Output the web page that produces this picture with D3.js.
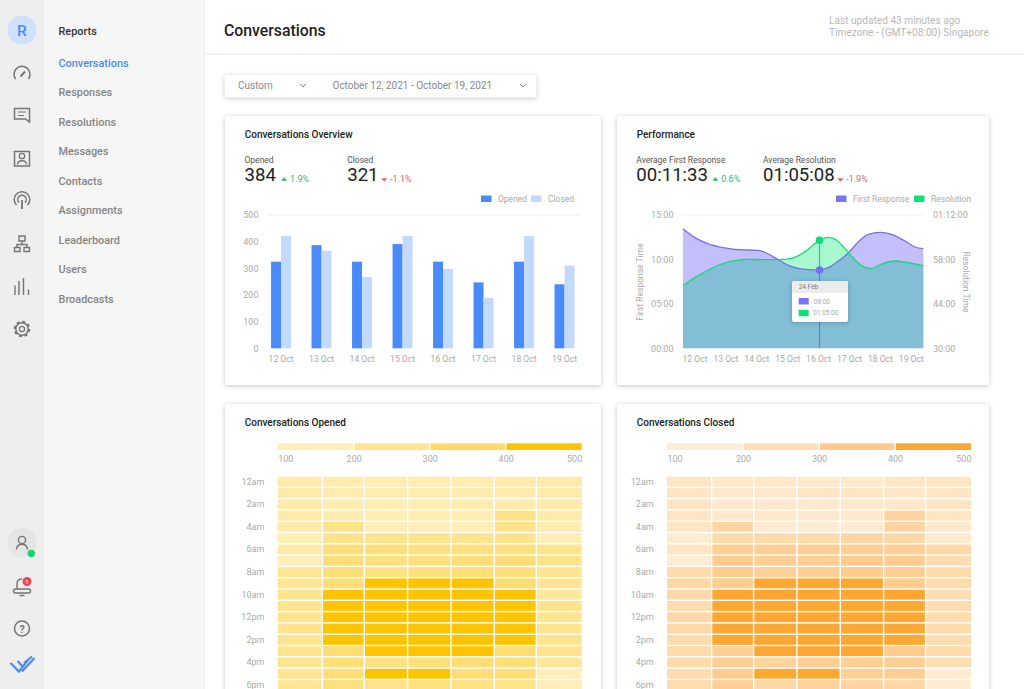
<!DOCTYPE html>
<html>
<head>
<meta charset="utf-8">
<script src="https://d3js.org/d3.v7.min.js"></script>
<style>
  html, body { margin: 0; padding: 0; background: #fff; overflow: hidden; }
  svg { display: block; font-family: Roboto, sans-serif; }
  .card { fill: #fff; filter: drop-shadow(0 1px 2.5px rgba(0,0,0,.22)); }
  .axis text { fill: #aaa; font-size: 9px; font-family: Roboto, sans-serif; }
  .axis.days text { font-size: 8.6px; }
  .axis path, .axis line { display: none; }
</style>
</head>
<body>
<svg id="page" width="1024" height="689"></svg>
<script>
var navItems = ["Conversations", "Responses", "Resolutions", "Messages", "Contacts", "Assignments", "Leaderboard", "Users", "Broadcasts"];

var days = ["12 Oct", "13 Oct", "14 Oct", "15 Oct", "16 Oct", "17 Oct", "18 Oct", "19 Oct"];
var barSeries = ["Opened", "Closed"];
var openedByDay = [325, 387, 325, 391, 325, 247, 325, 240];
var closedByDay = [421, 366, 267, 421, 297, 189, 421, 310];
var barTicks = [0, 100, 200, 300, 400, 500];

// day of october, first response in minutes
var firstDays = [11.61, 12, 12.43, 12.86, 13.29, 13.73, 14.05, 14.37, 14.7, 15.02, 15.34, 15.67, 16.03, 16.31, 16.64, 16.96, 17.29, 17.61, 17.99, 18.36, 18.8, 19.12, 19.39];
var firstResponse = [13.46, 12.45, 11.74, 11.36, 11.14, 11.06, 11.03, 10.61, 9.97, 9.34, 9, 8.85, 8.81, 9.07, 9.82, 10.72, 12, 12.82, 13.05, 12.82, 12.07, 11.4, 11.21];
// day of october, resolution in minutes
var resolutionDays = [11.61, 12, 12.43, 12.86, 13.29, 13.73, 14.27, 14.7, 15.13, 15.56, 16.03, 16.31, 16.58, 16.85, 17.18, 17.5, 17.72, 18.04, 18.47, 18.9, 19.39];
var resolution = [49.74, 52.26, 54.67, 56.56, 57.61, 58.04, 57.93, 57.93, 58.35, 60.45, 64.02, 64.96, 64.12, 61.5, 57.82, 55.51, 55.2, 56.56, 57.51, 56.98, 56.04];
var firstTicks = [0, 5, 10, 15];
var resolutionTicks = [30, 44, 58, 72];
var markerDay = 16.03;
var markerFirst = 8.81;
var markerResolution = 64.02;

var hours = ["12am", "1am", "2am", "3am", "4am", "5am", "6am", "7am", "8am", "9am", "10am", "11am", "12pm", "1pm", "2pm", "3pm", "4pm", "5pm", "6pm"];
var weekdays = ["d1", "d2", "d3", "d4", "d5", "d6", "d7"];
var scaleTicks = [100, 200, 300, 400, 500];

var openedGrid = [
  [170, 160, 150, 150, 150, 170, 170],
  [170, 150, 150, 150, 150, 160, 170],
  [170, 150, 140, 140, 150, 160, 170],
  [170, 150, 140, 140, 140, 270, 170],
  [170, 260, 130, 120, 130, 260, 150],
  [130, 240, 240, 240, 240, 240, 130],
  [170, 300, 300, 290, 290, 290, 250],
  [120, 310, 290, 290, 310, 310, 260],
  [230, 310, 280, 290, 310, 300, 240],
  [230, 310, 450, 450, 450, 320, 230],
  [240, 450, 450, 450, 450, 450, 210],
  [240, 450, 450, 450, 450, 450, 250],
  [250, 450, 450, 450, 450, 450, 240],
  [250, 450, 450, 450, 450, 450, 240],
  [240, 450, 450, 450, 450, 450, 240],
  [240, 320, 450, 450, 450, 320, 240],
  [240, 310, 280, 300, 310, 310, 220],
  [230, 310, 450, 450, 310, 310, 130],
  [230, 290, 250, 280, 270, 260, 130]
];
var closedGrid = [
  [170, 160, 160, 150, 150, 170, 170],
  [170, 150, 150, 170, 170, 160, 170],
  [170, 150, 140, 140, 150, 160, 170],
  [170, 150, 140, 140, 140, 270, 170],
  [170, 270, 130, 120, 130, 270, 150],
  [130, 240, 240, 240, 260, 250, 130],
  [170, 310, 300, 300, 300, 300, 250],
  [120, 320, 300, 300, 320, 320, 230],
  [240, 320, 290, 300, 320, 300, 240],
  [250, 320, 450, 450, 450, 320, 240],
  [250, 450, 450, 450, 450, 450, 220],
  [230, 450, 450, 450, 450, 450, 230],
  [250, 450, 450, 450, 450, 450, 230],
  [250, 450, 450, 450, 450, 450, 240],
  [240, 450, 450, 450, 450, 450, 230],
  [240, 300, 450, 450, 450, 320, 240],
  [240, 310, 280, 300, 310, 310, 220],
  [230, 320, 450, 450, 300, 310, 130],
  [230, 300, 250, 280, 270, 260, 120]
];
var yellowShades = ["#fff0bf", "#ffe89f", "#ffdf7a", "#ffd75f", "#ffc400", "#ffc400"];
var orangeShades = ["#feefdc", "#ffe1ba", "#ffcf95", "#ffc27a", "#ffa733", "#ffa733"];
var yellowLegend = ["#ffeeb8", "#ffe38f", "#ffd966", "#ffc400"];
var orangeLegend = ["#fdecd6", "#ffddb2", "#ffc98b", "#ffa733"];

var svg = d3.select("#page");
var iconColor = "#757575";

function label(parent, x, y, str, size, color, weight, anchor) {
  return parent.append("text")
    .attr("x", x).attr("y", y)
    .attr("dominant-baseline", "central")
    .attr("text-anchor", anchor || "start")
    .attr("font-size", size)
    .attr("font-weight", weight || 400)
    .attr("fill", color)
    .text(str);
}

function card(x, y, w, h) {
  svg.append("rect").attr("class", "card")
    .attr("x", x).attr("y", y).attr("width", w).attr("height", h).attr("rx", 2);
}

function trend(x, y, up, str) {
  var color = up ? "#2fb57f" : "#e8606a";
  svg.append("path")
    .attr("d", d3.symbol().type(d3.symbolTriangle).size(11))
    .attr("transform", "translate(" + (x + 2.7) + "," + y + ") scale(1.2,0.8) rotate(" + (up ? 0 : 180) + ")")
    .attr("fill", color);
  label(svg, x + 8.5, y - 0.5, str, 9, color);
}

function stat(x, title, value) {
  label(svg, x, 159.5, title, 8.5, "#555");
  label(svg, x, 175.3, value, 18.6, "#222");
}

function legendKey(x, color, str) {
  svg.append("rect").attr("x", x).attr("y", 195.5).attr("width", 10.5).attr("height", 6.5).attr("fill", color);
  label(svg, x + 17, 199, str, 8.5, "#aaa");
}

function drawShell() {
  svg.append("rect").attr("x", 0).attr("y", 0).attr("width", 44).attr("height", 689).attr("fill", "#eeeeee");
  svg.append("rect").attr("x", 44).attr("y", 0).attr("width", 160).attr("height", 689).attr("fill", "#f6f6f6");
  svg.append("rect").attr("x", 204).attr("y", 0).attr("width", 1).attr("height", 689).attr("fill", "#ececec");
  svg.append("rect").attr("x", 205).attr("y", 53.5).attr("width", 819).attr("height", 1).attr("fill", "#e6e6e6");

  label(svg, 58.5, 31.5, "Reports", 10.9, "#333", 500);
  var navY = d3.scalePoint().domain(navItems).range([63, 299]);
  navItems.forEach(function(d, i) {
    label(svg, 58.5, navY(d), d, 10.9, i === 0 ? "#4a8bf5" : "#858585", 500);
  });

  label(svg, 224, 30.5, "Conversations", 15.8, "#222", 500);
  label(svg, 829, 20, "Last updated 43 minutes ago", 10.15, "#b8b8b8");
  label(svg, 829, 32.5, "Timezone - (GMT+08:00) Singapore", 10.15, "#b8b8b8");

  card(224.5, 74.5, 312, 23);
  label(svg, 238, 85, "Custom", 10, "#8a8a8a");
  label(svg, 332.5, 85, "October 12, 2021 - October 19, 2021", 10, "#8a8a8a");
  [303, 523].forEach(function(x) {
    svg.append("path").attr("d", "M" + (x - 3) + " 84 l3 3 l3 -3")
      .attr("fill", "none").attr("stroke", "#888").attr("stroke-width", 1);
  });
}

function icon(d, width) {
  return svg.append("path").attr("d", d).attr("fill", "none")
    .attr("stroke", iconColor).attr("stroke-width", width || 1.5);
}

function drawRail() {
  svg.append("circle").attr("cx", 22).attr("cy", 30).attr("r", 14.5).attr("fill", "#cfe1fd");
  label(svg, 22, 30.5, "R", 15.5, "#4a8bf5", 500, "middle");

  icon("M15.5 79 A8 8 0 1 1 28.5 79");
  icon("M20.5 76.5 L25 71.5", 2);

  icon("M14.5 108.5 H29.5 V122 L25.5 119 H14.5 Z");
  icon("M18 112 H26 M18 115.5 H24", 1.2);

  icon("M14.5 151.5 H29.5 V166 H14.5 Z");
  svg.append("circle").attr("cx", 22).attr("cy", 156).attr("r", 2.7)
    .attr("fill", "none").attr("stroke", iconColor).attr("stroke-width", 1.3);
  icon("M17.5 164.5 C18 159.5 26 159.5 26.5 164.5", 1.3);

  icon("M16.5 205 A7.8 7.8 0 1 1 27.5 205");
  icon("M19 202.5 A4.2 4.2 0 1 1 25 202.5");
  icon("M22 200 V209", 1.8);

  icon("M19 236 H25 V241 H19 Z M14.5 247.5 H20 V251.5 H14.5 Z M24 247.5 H29.5 V251.5 H24 Z M22 241 V244.5 M17 247.5 V244.5 H27 V247.5", 1.4);

  icon("M15 295 V285.5 M19 295 V281 M23.5 295 V278 M28.5 295 V289.5", 1.4);

  svg.append("circle").attr("cx", 22).attr("cy", 329).attr("r", 6.2)
    .attr("fill", "none").attr("stroke", iconColor).attr("stroke-width", 1.4);
  svg.append("circle").attr("cx", 22).attr("cy", 329).attr("r", 7.3)
    .attr("fill", "none").attr("stroke", iconColor).attr("stroke-width", 2)
    .attr("stroke-dasharray", "3 2.73");
  svg.append("circle").attr("cx", 22).attr("cy", 329).attr("r", 2.6)
    .attr("fill", "none").attr("stroke", iconColor).attr("stroke-width", 1.3);

  svg.append("circle").attr("cx", 22).attr("cy", 542.5).attr("r", 14.5).attr("fill", "#e5e5e5");
  svg.append("circle").attr("cx", 22).attr("cy", 540).attr("r", 3.6)
    .attr("fill", "none").attr("stroke", iconColor).attr("stroke-width", 1.4);
  icon("M16.5 549.5 C17 542.5 27 542.5 27.5 549.5", 1.4);
  svg.append("circle").attr("cx", 31.3).attr("cy", 553.5).attr("r", 3.7).attr("fill", "#12d96f");

  icon("M17 589 V584 C17 581 19 579 22 579 M15.5 589 H28.5 A1.8 1.8 0 0 1 28.5 593 H15.5 A1.8 1.8 0 0 1 15.5 589 Z", 1.4);
  icon("M19.5 595.5 H24.5", 1.5);
  svg.append("circle").attr("cx", 27).attr("cy", 581.5).attr("r", 4.5).attr("fill", "#f4444f");
  label(svg, 27, 581.5, "1", 6, "#fff", 500, "middle");

  svg.append("circle").attr("cx", 22).attr("cy", 628.5).attr("r", 7.5)
    .attr("fill", "none").attr("stroke", iconColor).attr("stroke-width", 1.5);
  label(svg, 22, 629, "?", 10.5, iconColor, 700, "middle");

  svg.append("path").attr("d", "M10.5 663 L19 671.5 L28 660 M17.5 661 L22.5 666.5 M22 671.5 L34.5 658 M24 663 L32 656.5")
    .attr("fill", "none").attr("stroke", "#4a8bf5").attr("stroke-width", 2.2);
}

function drawBars() {
  card(225, 116, 376, 269);
  label(svg, 244.7, 134.5, "Conversations Overview", 10, "#222", 500);
  stat(244.5, "Opened", "384");
  stat(347.2, "Closed", "321");
  trend(281.5, 179.5, true, "1.9%");
  trend(381.5, 179.5, false, "-1.1%");
  legendKey(481, "#4a8bfc", "Opened");
  legendKey(531, "#c3d9fd", "Closed");

  var x = d3.scaleBand().domain(days).range([260.8, 584.8]);
  var inner = d3.scaleBand().domain(barSeries).range([x.bandwidth() / 2 - 10, x.bandwidth() / 2 + 10]);
  var y = d3.scaleLinear().domain([0, 500]).range([348.3, 215]);

  svg.append("line").attr("x1", 267.7).attr("x2", 581)
    .attr("y1", y(500)).attr("y2", y(500)).attr("stroke", "#f0f0f0");

  var colors = { Opened: "#4a8bfc", Closed: "#c3d9fd" };
  var values = { Opened: openedByDay, Closed: closedByDay };
  barSeries.forEach(function(name) {
    svg.append("g").selectAll("rect").data(values[name]).join("rect")
      .attr("x", function(d, i) { return x(days[i]) + inner(name); })
      .attr("width", inner.bandwidth())
      .attr("y", function(d) { return y(d); })
      .attr("height", function(d) { return y(0) - y(d); })
      .attr("fill", colors[name]);
  });

  svg.append("g").attr("class", "axis").attr("transform", "translate(258.5,0)")
    .call(d3.axisLeft(y).tickValues(barTicks).tickSize(0).tickPadding(0));
  svg.append("g").attr("class", "axis days").attr("transform", "translate(0,355.8)")
    .call(d3.axisBottom(x).tickSize(0).tickPadding(0));
}

function clock(m) {
  var pad = d3.format("02d");
  if (m >= 60) return "01:" + pad(m - 60) + ":00";
  return pad(m) + ":00";
}

function drawPerformance() {
  card(617, 116, 372, 269);
  label(svg, 636.7, 134.5, "Performance", 10, "#222", 500);
  stat(636.3, "Average First Response", "00:11:33");
  stat(763, "Average Resolution", "01:05:08");
  trend(712.7, 179.5, true, "0.6%");
  trend(837.7, 179.5, false, "-1.9%");
  legendKey(836, "#7a75f7", "First Response");
  legendKey(914, "#0fdf78", "Resolution");

  var band = d3.scaleBand().domain(days).range([679.55, 926.75]);
  var x = d3.scaleLinear().domain([12, 19]).range([695, 911.3]);
  var yFirst = d3.scaleLinear().domain([0, 15]).range([348.3, 215]);
  var yRes = d3.scaleLinear().domain([30, 72]).range([348.3, 215]);
  var first = firstDays.map(function(d, i) { return [d, firstResponse[i]]; });
  var res = resolutionDays.map(function(d, i) { return [d, resolution[i]]; });

  function areaOf(scale) {
    return d3.area().x(function(d) { return x(d[0]); })
      .y0(348.3).y1(function(d) { return scale(d[1]); }).curve(d3.curveMonotoneX);
  }
  function lineOf(scale) {
    return d3.line().x(function(d) { return x(d[0]); })
      .y(function(d) { return scale(d[1]); }).curve(d3.curveMonotoneX);
  }

  svg.append("line").attr("x1", 682).attr("x2", 923)
    .attr("y1", 215).attr("y2", 215).attr("stroke", "#f0f0f0");

  svg.append("clipPath").attr("id", "firstClip").append("path").attr("d", areaOf(yFirst)(first));
  svg.append("path").attr("d", areaOf(yFirst)(first)).attr("fill", "#c3bffb");
  svg.append("path").attr("d", areaOf(yRes)(res)).attr("fill", "#a9f9d0");
  svg.append("path").attr("d", areaOf(yRes)(res)).attr("fill", "#83bdd6").attr("clip-path", "url(#firstClip)");
  svg.append("path").attr("d", lineOf(yFirst)(first)).attr("fill", "none").attr("stroke", "#7570f0").attr("stroke-width", 1.3);
  svg.append("path").attr("d", lineOf(yRes)(res)).attr("fill", "none").attr("stroke", "#0fdc78").attr("stroke-width", 1.3);

  svg.append("line").attr("x1", x(markerDay)).attr("x2", x(markerDay))
    .attr("y1", yRes(markerResolution)).attr("y2", yFirst(markerFirst))
    .attr("stroke", "#0fdc78").attr("stroke-width", 1.2);
  svg.append("line").attr("x1", x(markerDay)).attr("x2", x(markerDay))
    .attr("y1", yFirst(markerFirst)).attr("y2", 348.3)
    .attr("stroke", "#7570f0").attr("stroke-width", 1.2);
  svg.append("circle").attr("cx", x(markerDay)).attr("cy", yRes(markerResolution)).attr("r", 3.8).attr("fill", "#0fdc78");
  svg.append("circle").attr("cx", x(markerDay)).attr("cy", yFirst(markerFirst)).attr("r", 3.8).attr("fill", "#7570f0");

  // tooltip
  var tip = svg.append("g");
  tip.append("rect").attr("x", 792).attr("y", 281).attr("width", 56).attr("height", 41).attr("rx", 2)
    .attr("fill", "#fff").style("filter", "drop-shadow(0 1px 2px rgba(0,0,0,.2))");
  tip.append("path").attr("d", "M792 293 V283 a2 2 0 0 1 2 -2 H846 a2 2 0 0 1 2 2 V293 Z").attr("fill", "#ececec");
  label(tip, 798.7, 287.3, "24 Feb", 6.5, "#777");
  tip.append("rect").attr("x", 798.7).attr("y", 298).attr("width", 10).attr("height", 6.5).attr("fill", "#7a75f7");
  tip.append("rect").attr("x", 798.7).attr("y", 309.8).attr("width", 10).attr("height", 6.5).attr("fill", "#0fdf78");
  label(tip, 813.8, 301.5, "08:00", 6.5, "#aaa");
  label(tip, 813.3, 313, "01:05:00", 6.5, "#aaa");

  svg.append("g").attr("class", "axis").attr("transform", "translate(673.5,0)")
    .call(d3.axisLeft(yFirst).tickValues(firstTicks).tickFormat(clock).tickSize(0).tickPadding(0));
  svg.append("g").attr("class", "axis").attr("transform", "translate(933,0)")
    .call(d3.axisRight(yRes).tickValues(resolutionTicks).tickFormat(clock).tickSize(0).tickPadding(0));
  svg.append("g").attr("class", "axis days").attr("transform", "translate(0,355.8)")
    .call(d3.axisBottom(band).tickSize(0).tickPadding(0));

  label(svg, 0, 0, "First Response Time", 8.5, "#aaa", 400, "middle")
    .attr("transform", "translate(640,282) rotate(-90)");
  label(svg, 0, 0, "Resolution Time", 8.5, "#aaa", 400, "middle")
    .attr("transform", "translate(966,282) rotate(90)");
}

function drawHeat(cardX, cardW, title, titleX, left, right, grid, shades, legendColors) {
  card(cardX, 404, cardW, 300);
  label(svg, titleX, 422.3, title, 10, "#222", 500);

  var scaleX = d3.scaleLinear().domain([100, 500]).range([left, right]);
  // columns are not quite even in the original, first and last run wider
  var colEdges = [0, 45.3, 87.3, 130.6, 174, 217.3, 259.3, 304];
  var x = d3.scaleOrdinal().domain(weekdays).range(colEdges.slice(0, 7).map(function(d) { return left + d; }));
  var y = d3.scaleBand().domain(hours).range([476.7, 476.7 + 11.3 * hours.length]);
  var color = d3.scaleLinear().domain([100, 200, 300, 399, 400, 500]).range(shades);

  scaleTicks.slice(0, -1).forEach(function(d, i) {
    svg.append("rect")
      .attr("x", scaleX(d) + (i ? 0.8 : 0))
      .attr("width", scaleX(scaleTicks[i + 1]) - scaleX(d) - (i < 3 ? 0.8 : 0) - (i ? 0.8 : 0))
      .attr("y", 443.3).attr("height", 6.7)
      .attr("fill", legendColors[i]);
  });

  var scaleAxis = svg.append("g").attr("class", "axis").attr("transform", "translate(0,455.5)")
    .call(d3.axisBottom(scaleX).tickValues(scaleTicks).tickSize(0).tickPadding(0));
  scaleAxis.selectAll("text").style("text-anchor", function(d) {
    return d === 100 ? "start" : d === 500 ? "end" : "middle";
  });

  var gap = 1.4;
  grid.forEach(function(row, r) {
    svg.append("g").selectAll("rect").data(row).join("rect")
      .attr("x", function(d, c) { return x(weekdays[c]); })
      .attr("y", y(hours[r]))
      .attr("width", function(d, c) { return colEdges[c + 1] - colEdges[c] - (c < 6 ? gap : 0); })
      .attr("height", y.bandwidth() - gap)
      .attr("fill", function(d) { return color(d); });
  });

  svg.append("g").attr("class", "axis").attr("transform", "translate(" + (left - 13.3) + ",-0.7)")
    .call(d3.axisLeft(y).tickValues(hours.filter(function(d, i) { return i % 2 === 0; })).tickSize(0).tickPadding(0));
}

drawShell();
drawRail();
drawBars();
drawPerformance();
drawHeat(225, 376, "Conversations Opened", 244.7, 277.7, 581.7, openedGrid, yellowShades, yellowLegend);
drawHeat(617, 372, "Conversations Closed", 636.7, 667, 971, closedGrid, orangeShades, orangeLegend);
</script>
</body>
</html>
